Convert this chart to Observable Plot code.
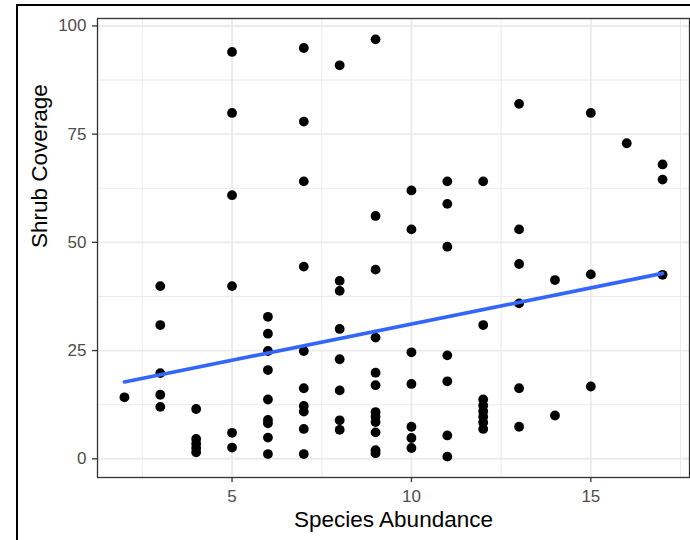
<!DOCTYPE html>
<html>
<head>
<meta charset="utf-8">
<script src="https://cdn.jsdelivr.net/npm/d3@7"></script>
<script src="https://cdn.jsdelivr.net/npm/@observablehq/plot@0.6"></script>
<style>
  html, body { margin: 0; padding: 0; background: white; overflow: hidden; }
  #wrap { position: relative; width: 690px; height: 540px; }
  #edge { position: absolute; left: 16px; top: 4px; width: 700px; height: 560px;
          border-left: 2.5px solid black; border-top: 2.5px solid black; pointer-events: none; }
</style>
</head>
<body>
<div id="wrap"><div id="edge"></div></div>
<script>
// Species abundance (x) and shrub coverage (y)
const speciesAbundance = [
  2,
  3, 3, 3, 3, 3,
  4, 4, 4, 4, 4,
  5, 5, 5, 5, 5, 5,
  6, 6, 6, 6, 6, 6, 6, 6, 6,
  7, 7, 7, 7, 7, 7, 7, 7, 7, 7,
  8, 8, 8, 8, 8, 8, 8, 8,
  9, 9, 9, 9, 9, 9, 9, 9, 9, 9, 9, 9,
  10, 10, 10, 10, 10, 10, 10,
  11, 11, 11, 11, 11, 11, 11,
  12, 12, 12, 12, 12, 12, 12, 12,
  13, 13, 13, 13, 13, 13,
  14, 14,
  15, 15, 15,
  16,
  17, 17, 17
];
const shrubCoverage = [
  14.2,
  39.9, 30.9, 19.8, 14.8, 12.0,
  11.5, 4.6, 3.5, 2.5, 1.5,
  94.0, 79.9, 60.9, 39.9, 6.0, 2.6,
  32.8, 28.9, 24.9, 20.5, 13.7, 9.0, 8.2, 4.9, 1.1,
  94.9, 77.9, 64.1, 44.4, 24.9, 16.3, 12.2, 10.9, 6.9, 1.1,
  90.9, 41.1, 38.8, 30.0, 23.0, 15.8, 8.9, 6.7,
  96.9, 56.1, 43.7, 28.0, 19.9, 17.0, 10.8, 9.7, 8.5, 6.1, 2.0, 1.3,
  62.0, 53.0, 24.6, 17.3, 7.4, 4.8, 2.5,
  64.1, 58.9, 49.0, 23.9, 17.9, 5.4, 0.5,
  64.1, 30.9, 13.7, 12.3, 11.0, 9.7, 8.4, 6.9,
  82.0, 53.0, 45.0, 35.9, 16.3, 7.4,
  41.3, 10.0,
  79.9, 42.6, 16.7,
  72.9,
  68.0, 64.5, 42.5
];
const xTicks = [5, 10, 15];
const yTicks = [0, 25, 50, 75, 100];
const xMinor = [2.5, 7.5, 12.5, 17.5];
const yMinor = [12.5, 37.5, 62.5, 87.5];
const xTitle = "Species Abundance";
const yTitle = "Shrub Coverage";

const rows = speciesAbundance.map((x, i) => ({x, y: shrubCoverage[i]}));
const expand = (e) => { const d = (e[1] - e[0]) * 0.05; return [e[0] - d, e[1] + d]; };

const chart = Plot.plot({
  width: 690,
  height: 540,
  marginLeft: 97,
  marginTop: 18,
  marginRight: 1,
  marginBottom: 63,
  x: {domain: expand(d3.extent(speciesAbundance))},
  y: {domain: expand(d3.extent(shrubCoverage))},
  style: {fontFamily: "'Liberation Sans', Arial, Helvetica, sans-serif", background: "white", color: "#4d4d4d"},
  marks: [
    Plot.gridX(xMinor, {stroke: "#ebebeb", strokeOpacity: 1, strokeWidth: 1}),
    Plot.gridY(yMinor, {stroke: "#ebebeb", strokeOpacity: 1, strokeWidth: 1}),
    Plot.gridX(xTicks, {stroke: "#ebebeb", strokeOpacity: 1, strokeWidth: 1.9}),
    Plot.gridY(yTicks, {stroke: "#ebebeb", strokeOpacity: 1, strokeWidth: 1.9}),
    Plot.dot(rows, {x: "x", y: "y", r: 4.9, fill: "black", stroke: "none"}),
    Plot.linearRegressionY(rows, {x: "x", y: "y", stroke: "#3366FF", strokeWidth: 3.6, ci: 0}),
    Plot.frame({stroke: "#333333", strokeWidth: 1.3}),
    Plot.axisX(xTicks, {tickSize: 5, tickPadding: 7.5, fontSize: 17, label: null, stroke: "#333333", strokeWidth: 1.3}),
    Plot.axisY(yTicks, {tickSize: 5, tickPadding: 6, fontSize: 17, label: null, stroke: "#333333", strokeWidth: 1.3}),
    Plot.text([xTitle], {text: d => d, frameAnchor: "bottom", dy: 49, fontSize: 22.5, fill: "black"}),
    Plot.text([yTitle], {text: d => d, frameAnchor: "left", dx: -58, rotate: -90, fontSize: 22.5, fill: "black"})
  ]
});
document.getElementById("wrap").prepend(chart);
</script>
</body>
</html>
